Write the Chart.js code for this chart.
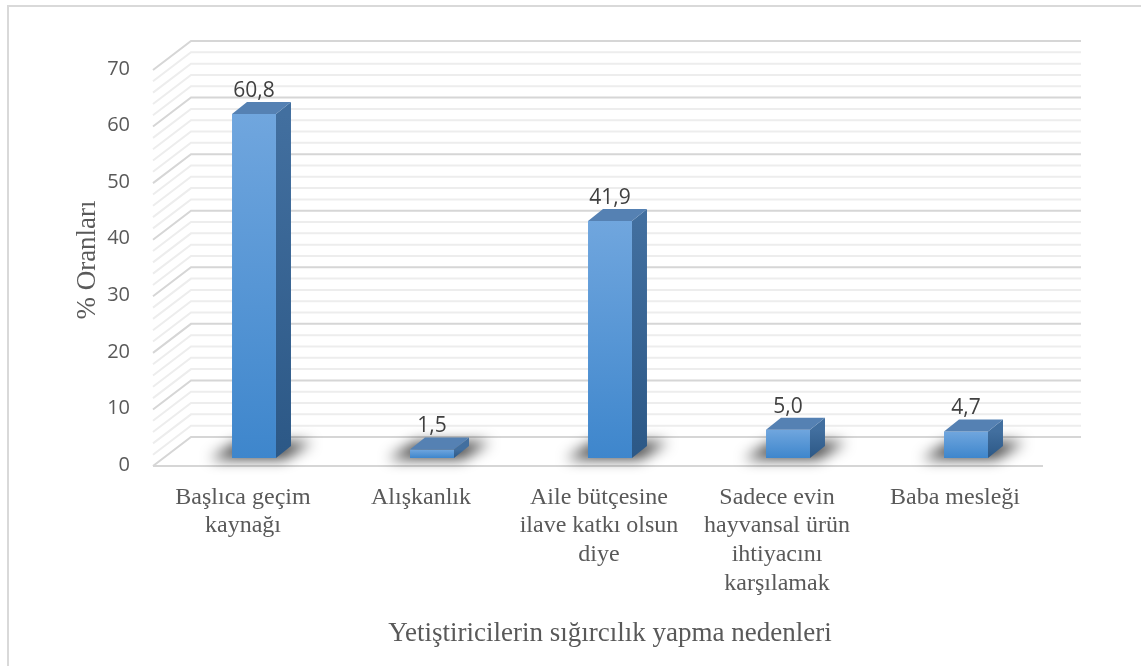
<!DOCTYPE html>
<html>
<head>
<meta charset="utf-8">
<script src="https://cdn.jsdelivr.net/npm/chart.js@4.4.1/dist/chart.umd.min.js"></script>
<style>
  html, body { margin: 0; background: #fff; }
  #wrap { width: 1141px; height: 666px; position: relative; }
</style>
</head>
<body>
<div id="wrap"><canvas id="reasonChart"></canvas></div>
<script>
const categories = [
  ['Başlıca geçim', 'kaynağı'],
  ['Alışkanlık'],
  ['Aile bütçesine', 'ilave katkı olsun', 'diye'],
  ['Sadece evin', 'hayvansal ürün', 'ihtiyacını', 'karşılamak'],
  ['Baba mesleği']
];
const values = [60.8, 1.5, 41.9, 5.0, 4.7];
const yTicks = [0, 10, 20, 30, 40, 50, 60, 70];
const minorStep = 2;

// 3d look: offsets of the front edge / back wall relative to the bar plane
const FRONT = { dx: -12, dy: 8 };
const BACK = { dx: 26, dy: -21 };
const DEPTH = { dx: 15, dy: -12 };

const frameAndWall = {
  id: 'frameAndWall',
  beforeDraw(chart) {
    const ctx = chart.ctx;
    ctx.save();
    ctx.strokeStyle = '#d9d9d9';
    ctx.lineWidth = 2;
    ctx.strokeRect(8, 6, 1300, 800);
    ctx.restore();
  },
  beforeDatasetsDraw(chart) {
    const { ctx, chartArea: a, scales: { y } } = chart;
    ctx.save();
    ctx.lineWidth = 2;
    for (let v = y.min; v <= y.max; v += minorStep) {
      const py = y.getPixelForValue(v);
      const major = v % 10 === 0;
      ctx.strokeStyle = major ? '#d6d6d6' : '#ededed';
      ctx.beginPath();
      ctx.moveTo(a.left + FRONT.dx, py + FRONT.dy);
      ctx.lineTo(a.left + BACK.dx, py + BACK.dy);
      ctx.lineTo(a.right + BACK.dx, py + BACK.dy);
      ctx.stroke();
    }
    const p0 = y.getPixelForValue(0);
    ctx.strokeStyle = '#d6d6d6';
    ctx.beginPath();
    ctx.moveTo(a.left + FRONT.dx, p0 + FRONT.dy);
    ctx.lineTo(a.right + FRONT.dx, p0 + FRONT.dy);
    ctx.stroke();

    // bar shadows on the floor
    chart.getDatasetMeta(0).data.forEach(bar => {
      const l = bar.x - bar.width / 2;
      const r = bar.x + bar.width / 2;
      const b = bar.base;
      ctx.save();
      ctx.filter = 'blur(7px)';
      ctx.fillStyle = 'rgba(0,0,0,0.75)';
      ctx.beginPath();
      ctx.moveTo(l - 22, b + 1);
      ctx.lineTo(r + 8, b + 1);
      ctx.lineTo(r + 36, b - 16);
      ctx.lineTo(l + 6, b - 16);
      ctx.closePath();
      ctx.fill();
      ctx.restore();
    });
    ctx.restore();
  },
  afterDatasetsDraw(chart) {
    const ctx = chart.ctx;
    ctx.save();
    chart.getDatasetMeta(0).data.forEach((bar, i) => {
      const l = bar.x - bar.width / 2;
      const r = bar.x + bar.width / 2;
      const t = bar.y;
      const b = bar.base;
      // side face
      const sg = ctx.createLinearGradient(0, t, 0, b);
      sg.addColorStop(0, '#426f9f');
      sg.addColorStop(1, '#2c5886');
      ctx.fillStyle = sg;
      ctx.beginPath();
      ctx.moveTo(r, t);
      ctx.lineTo(r + DEPTH.dx, t + DEPTH.dy);
      ctx.lineTo(r + DEPTH.dx, b + DEPTH.dy);
      ctx.lineTo(r, b);
      ctx.closePath();
      ctx.fill();
      // top face
      ctx.fillStyle = '#5581b3';
      ctx.beginPath();
      ctx.moveTo(l, t);
      ctx.lineTo(l + DEPTH.dx, t + DEPTH.dy);
      ctx.lineTo(r + DEPTH.dx, t + DEPTH.dy);
      ctx.lineTo(r, t);
      ctx.closePath();
      ctx.fill();
      // value label
      ctx.fillStyle = '#404040';
      ctx.font = '21px "Open Sans"';
      ctx.textAlign = 'center';
      ctx.textBaseline = 'middle';
      ctx.fillText(values[i].toFixed(1).replace('.', ','), bar.x, t - 23);
    });
    ctx.restore();
  }
};

new Chart(document.getElementById('reasonChart'), {
  type: 'bar',
  data: {
    labels: categories,
    datasets: [{
      data: values,
      borderWidth: 0,
      categoryPercentage: 1,
      barPercentage: 0.247,
      backgroundColor(c) {
        const chart = c.chart;
        if (!chart.chartArea || c.raw == null) return '#4a90d9';
        const y = chart.scales.y;
        const g = chart.ctx.createLinearGradient(0, y.getPixelForValue(c.raw), 0, y.getPixelForValue(0));
        g.addColorStop(0, '#70a6de');
        g.addColorStop(1, '#3e86cc');
        return g;
      }
    }]
  },
  options: {
    responsive: true,
    maintainAspectRatio: false,
    animation: false,
    layout: { padding: { left: 0, top: 62, right: 86, bottom: 0 } },
    plugins: { legend: { display: false }, tooltip: { enabled: false } },
    scales: {
      x: {
        grid: { display: false, drawTicks: false },
        border: { display: false },
        ticks: {
          padding: 25,
          labelOffset: -11,
          maxRotation: 0,
          color: '#595959',
          font: { family: 'Liberation Serif', size: 24, lineHeight: 1.2 }
        },
        title: {
          display: true,
          text: 'Yetiştiricilerin sığırcılık yapma nedenleri',
          color: '#595959',
          font: { family: 'Liberation Serif', size: 27 },
          padding: { bottom: 16 }
        },
        afterFit(scale) { scale.height = 666 - 458; }
      },
      y: {
        min: yTicks[0],
        max: yTicks[yTicks.length - 1],
        grid: { display: false, drawTicks: false },
        border: { display: false },
        ticks: {
          stepSize: 10,
          padding: 35,
          labelOffset: 7,
          color: '#595959',
          font: { family: 'Open Sans', size: 20 }
        },
        title: {
          display: true,
          text: '% Oranları',
          color: '#595959',
          font: { family: 'Liberation Serif', size: 27 },
          padding: { top: 72 }
        },
        afterFit(scale) { scale.width = 165; }
      }
    }
  },
  plugins: [frameAndWall]
});
</script>
</body>
</html>
